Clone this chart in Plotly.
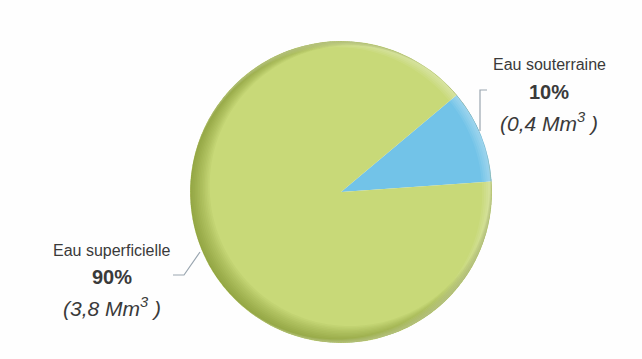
import math
import plotly.graph_objects as go

labels = ["Eau souterraine", "Eau superficielle"]
values = [10, 90]
volumes = ["0,4", "3,8"]
colors = ["#72c3e8", "#c8d978"]

W, H = 642, 359
PIE_CX, PIE_CY, PIE_R = 341, 192, 151

def px(x):
    return x / W

def py(y):
    return 1 - y / H

fig = go.Figure()
fig.add_trace(go.Pie(
    labels=labels,
    values=values,
    sort=False,
    direction="clockwise",
    rotation=50,
    marker=dict(colors=colors, line=dict(width=0)),
    textinfo="none",
    hoverinfo="label+percent",
    showlegend=False,
    domain=dict(x=[px(PIE_CX - PIE_R), px(PIE_CX + PIE_R)],
                y=[py(PIE_CY + PIE_R), py(PIE_CY - PIE_R)]),
))

# ---- soft edge shading (decorative crescents) ----
def circle_path(cx, cy, r, reverse=False, n=160):
    angs = [2 * math.pi * i / n for i in range(n)]
    if reverse:
        angs = angs[::-1]
    pts = [(cx + r * math.sin(a), cy - r * math.cos(a)) for a in angs]
    return "M " + " L ".join(f"{px(x):.5f},{py(y):.5f}" for x, y in pts) + " Z"

def crescent(d, toward_deg, fillcol):
    t = math.radians(toward_deg)
    icx = PIE_CX + d * math.sin(t)
    icy = PIE_CY - d * math.cos(t)
    path = circle_path(PIE_CX, PIE_CY, PIE_R - 0.3) + " " + circle_path(icx, icy, PIE_R - d, reverse=True)
    fig.add_shape(type="path", xref="paper", yref="paper", path=path,
                  fillcolor=fillcol, line=dict(width=0), layer="above")

for i in range(1, 13):
    crescent(i * 0.9, 55, "rgba(95,125,25,0.05)")
for i in range(1, 6):
    crescent(i * 1.0, 255, "rgba(255,255,255,0.07)")

# ---- labels ----
label_pos = {
    "Eau souterraine": (549, 65, 92, 122),
    "Eau superficielle": (112, 250, 277, 307),
}
txtcol = "#3a3a3a"
fam = "Liberation Sans, Arial"
for lab, val, vol in zip(labels, values, volumes):
    cx, y1, y2, y3 = label_pos[lab]
    common = dict(xref="paper", yref="paper", showarrow=False,
                  xanchor="center", yanchor="middle")
    fig.add_annotation(x=px(cx), y=py(y1), text=lab,
                       font=dict(family=fam, size=16, color=txtcol), **common)
    fig.add_annotation(x=px(cx), y=py(y2), text=f"<b>{val}%</b>",
                       font=dict(family=fam, size=20, color=txtcol), **common)
    fig.add_annotation(x=px(cx), y=py(y3), text=f"<i>({vol} Mm<sup>3</sup> )</i>",
                       font=dict(family=fam, size=21, color=txtcol), **common)

linecol = "#9aa6b0"
fig.add_shape(type="path", xref="paper", yref="paper",
              path=f"M {px(487)} {py(90)} L {px(480)} {py(90)} L {px(480)} {py(131)}",
              line=dict(color=linecol, width=1.2))
fig.add_shape(type="path", xref="paper", yref="paper",
              path=f"M {px(200)} {py(252)} L {px(184)} {py(275)} L {px(173)} {py(275)}",
              line=dict(color=linecol, width=1.2))

fig.update_layout(
    width=W, height=H,
    margin=dict(l=0, r=0, t=0, b=0),
    paper_bgcolor="#fefefe",
    plot_bgcolor="#fefefe",
)

fig.write_html("out.html", config={"displayModeBar": False},
               post_script="document.body.style.margin='0';")
